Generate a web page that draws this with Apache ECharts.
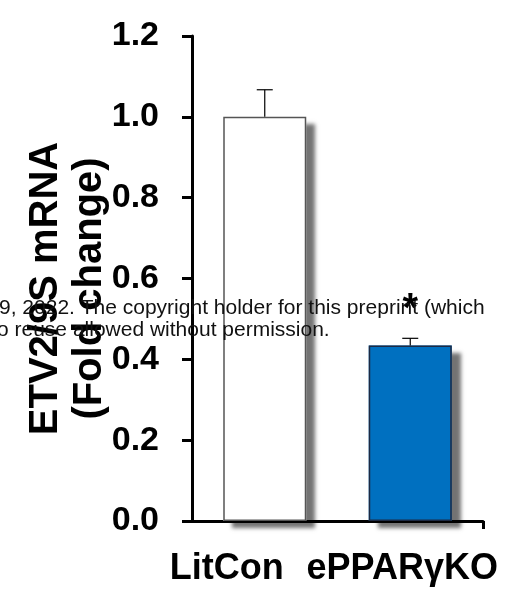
<!DOCTYPE html>
<html>
<head>
<meta charset="utf-8">
<script src="https://cdn.jsdelivr.net/npm/echarts@6/dist/echarts.min.js"></script>
<style>
  html, body { margin: 0; padding: 0; background: #fff; }
  #main { width: 505px; height: 589px; }
</style>
</head>
<body>
<div id="main"></div>
<script>
// data
const groups = ['LitCon', 'ePPARγKO']
const foldChange = [1.0, 0.434]
const sem = [0.067, 0.018]
const signif = ['', '*']
const yTicks = [0, 0.2, 0.4, 0.6, 0.8, 1.0, 1.2]

const barColors = ['#ffffff', '#0070c0']
const barBorders = ['#555555', '#1c2a44']
const labelShift = [76, 16] // labels sit left of the ticks in the original

const FONT = 'Arial, "Liberation Sans", Helvetica, sans-serif'

let chartDom = document.getElementById('main')
let myChart = echarts.init(chartDom, null, { renderer: 'canvas' })

const rich = {}
labelShift.forEach((s, i) => {
    rich['c' + i] = {
        fontFamily: FONT,
        fontWeight: 'bold',
        fontSize: 36,
        color: '#000',
        padding: [0, s, 0, 0]
    }
})

let option = {
    animation: false,
    backgroundColor: '#fff',
    grid: { left: 192, right: 22, top: 36, bottom: 68, containLabel: false },
    xAxis: [
        {
            type: 'category',
            data: groups,
            position: 'bottom',
            axisLine: { lineStyle: { color: '#000', width: 3 } },
            axisTick: { alignWithLabel: true, length: 8, lineStyle: { color: '#000', width: 3 } },
            axisLabel: {
                margin: 30,
                formatter: (v, i) => '{c' + i + '|' + v + '}',
                rich: rich
            },
            splitLine: { show: false }
        },
        {
            // only used for the closing tick at the right end
            type: 'value',
            min: 0,
            max: 1,
            position: 'bottom',
            axisLine: { show: false },
            axisTick: { show: true, customValues: [1], length: 8, lineStyle: { color: '#000', width: 3 } },
            axisLabel: { show: false },
            splitLine: { show: false }
        }
    ],
    yAxis: {
        type: 'value',
        min: 0,
        max: 1.2,
        interval: 0.2,
        name: 'ETV2/9S mRNA\n(Fold change)',
        nameLocation: 'middle',
        nameRotate: 90,
        nameGap: 80,
        nameMoveOverlap: false,
        nameTextStyle: {
            fontFamily: FONT,
            fontWeight: 'bold',
            fontSize: 40,
            lineHeight: 44,
            color: '#000',
            padding: [0, 20, 0, 0]
        },
        axisLine: { show: true, lineStyle: { color: '#000', width: 3 } },
        axisTick: { show: true, length: 10, lineStyle: { color: '#000', width: 3 } },
        axisLabel: {
            margin: 33,
            fontFamily: FONT,
            fontWeight: 'bold',
            fontSize: 34,
            color: '#000',
            customValues: yTicks,
            formatter: v => v.toFixed(1)
        },
        splitLine: { show: false }
    },
    graphic: [
        {
            type: 'text',
            left: -1,
            top: 298,
            z: 100,
            style: {
                text: '9, 2022. The copyright holder for this preprint (which',
                font: '21px ' + FONT,
                fill: '#111'
            }
        },
        {
            type: 'text',
            left: -3,
            top: 320,
            z: 100,
            style: {
                text: 'o reuse allowed without permission.',
                font: '21px ' + FONT,
                fill: '#111'
            }
        }
    ],
    series: [
        {
            // fill + drop shadow
            type: 'bar',
            xAxisIndex: 0,
            barWidth: 83,
            barGap: '-100%',
            data: foldChange.map((v, i) => ({
                value: v,
                itemStyle: {
                    color: barColors[i],
                    shadowColor: 'rgba(0,0,0,0.55)',
                    shadowBlur: 4,
                    shadowOffsetX: 9,
                    shadowOffsetY: 7
                }
            })),
            z: 2
        },
        {
            // outline only, so the shadow doesn't bleed into the fill
            type: 'bar',
            xAxisIndex: 0,
            barWidth: 83,
            barGap: '-100%',
            data: foldChange.map((v, i) => ({
                value: v,
                itemStyle: {
                    color: 'rgba(0,0,0,0)',
                    borderColor: barBorders[i],
                    borderWidth: 1.5
                }
            })),
            z: 3
        },
        {
            type: 'custom',
            xAxisIndex: 0,
            z: 5,
            data: foldChange.map((v, i) => [i, v, sem[i]]),
            renderItem: (params, api) => {
                const i = api.value(0)
                const top = api.coord([i, api.value(1) + api.value(2)])
                const base = api.coord([i, api.value(1)])
                const cap = 8
                const children = [
                    { type: 'line', shape: { x1: base[0], y1: base[1], x2: top[0], y2: top[1] }, style: { stroke: '#000', lineWidth: 1.2 } },
                    { type: 'line', shape: { x1: top[0] - cap, y1: top[1], x2: top[0] + cap, y2: top[1] }, style: { stroke: '#000', lineWidth: 1.2 } }
                ]
                if (signif[i]) {
                    children.push({
                        type: 'text',
                        x: top[0],
                        y: top[1] - 8,
                        style: {
                            text: signif[i],
                            font: 'bold 40px ' + FONT,
                            fill: '#000',
                            align: 'center',
                            verticalAlign: 'bottom'
                        }
                    })
                }
                return { type: 'group', children: children }
            }
        }
    ]
}

option && myChart.setOption(option)
</script>
</body>
</html>
